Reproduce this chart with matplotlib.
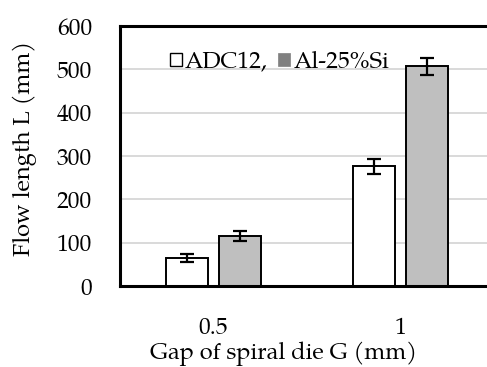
import matplotlib
matplotlib.use("Agg")
import matplotlib.pyplot as plt
from matplotlib.patches import Patch
import numpy as np

plt.rcParams['font.family'] = ['TeX Gyre Pagella', 'Liberation Serif', 'DejaVu Serif']

gaps = ["0.5", "1"]
series = ["ADC12,", "Al-25%Si"]
adc12 = [65, 276]
adc12_err = [10, 17]
al25si = [115, 507]
al25si_err = [11, 19]
yticks = [0, 100, 200, 300, 400, 500, 600]

fig = plt.figure(figsize=(4.87, 3.67), dpi=100)
ax = fig.add_axes([120 / 487, 1 - 286 / 367, 374 / 487, 260 / 367])

x = np.arange(len(gaps))
width = 0.225
offset = 0.143
err_kw = dict(ecolor="black", elinewidth=1.6, capsize=4.7, capthick=1.6)

ax.bar(x - offset, adc12, width, yerr=adc12_err, color="white",
       edgecolor="black", linewidth=1.4, error_kw=err_kw, zorder=3)
ax.bar(x + offset, al25si, width, yerr=al25si_err, color="#bfbfbf",
       edgecolor="black", linewidth=1.4, error_kw=err_kw, zorder=3)

fs = 17
ax.set_xlim(-0.5, 1.5)
ax.set_ylim(0, 600)
ax.set_yticks(yticks)
ax.set_xticks(x)
ax.set_xticklabels(gaps)
ax.tick_params(axis="both", length=0, labelsize=fs)
ax.tick_params(axis="y", pad=20)
ax.tick_params(axis="x", pad=22)

ax.yaxis.grid(True, color="#d9d9d9", linewidth=1.4, zorder=0)
ax.set_axisbelow(True)
for side in ["left", "right", "top", "bottom"]:
    ax.spines[side].set_linewidth(2.2)
    ax.spines[side].set_zorder(4)

ax.set_ylabel("Flow length L (mm)", fontsize=fs)
ax.yaxis.set_label_coords(-0.222, 0.53)
ax.set_xlabel("Gap of spiral die G (mm)", fontsize=fs)
ax.xaxis.set_label_coords(0.4385, -0.214)

handles = [Patch(facecolor="white", edgecolor="black", linewidth=1.0),
           Patch(facecolor="#808080", edgecolor="#808080", linewidth=0.5)]
ax.legend(handles, series, loc="upper left", bbox_to_anchor=(0.133, 0.905),
          ncol=2, frameon=False, fontsize=fs, handlelength=0.5,
          handleheight=0.5, handletextpad=0.15, columnspacing=0.45,
          borderaxespad=0, borderpad=0)

fig.savefig("out.png", dpi=100)
